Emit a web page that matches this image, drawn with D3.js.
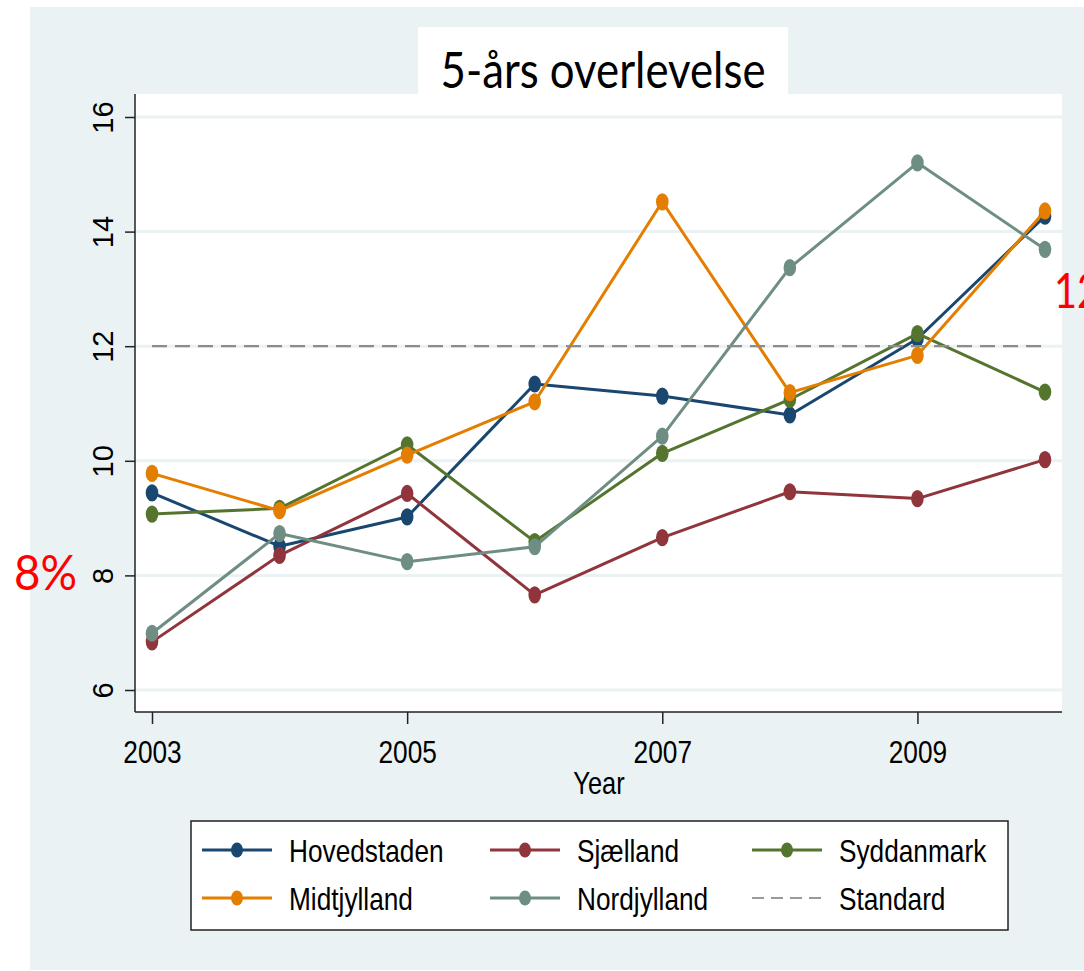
<!DOCTYPE html>
<html>
<head>
<meta charset="utf-8">
<script src="https://cdn.jsdelivr.net/npm/d3@7"></script>
<style>
  body { margin: 0; background: #fff; }
  svg { display: block; }
</style>
</head>
<body>
<svg id="chart" width="1084" height="971"></svg>
<script>
// values
var years = [2003, 2004, 2005, 2006, 2007, 2008, 2009, 2010];
var hovedstaden = [9.44, 8.51, 9.02, 11.34, 11.13, 10.80, 12.13, 14.27];
var sjaelland   = [6.84, 8.35, 9.43, 7.66, 8.66, 9.46, 9.34, 10.02];
var syddanmark  = [9.07, 9.17, 10.28, 8.59, 10.13, 11.07, 12.22, 11.20];
var midtjylland = [9.78, 9.13, 10.10, 11.03, 14.52, 11.19, 11.84, 14.36];
var nordjylland = [6.99, 8.73, 8.24, 8.50, 10.43, 13.37, 15.20, 13.69];
var standard    = [12, 12, 12, 12, 12, 12, 12, 12];

var seriesNames = ["Hovedstaden", "Sjælland", "Syddanmark", "Midtjylland", "Nordjylland"];
var seriesValues = [hovedstaden, sjaelland, syddanmark, midtjylland, nordjylland];
var seriesColors = ["#1a476f", "#90353b", "#55752f", "#e37e00", "#6e8e84"];

var yTicks = [6, 8, 10, 12, 14, 16];
var xTicks = [2003, 2005, 2007, 2009];

var titleText = "5-års overlevelse";
var xTitle = "Year";
var leftNote = "8%";
var rightNote = "12";

var svg = d3.select("#chart");
var bg = "#eaf2f3";
var squeeze = "scale(0.82,1)";
var font = "'Liberation Sans', Arial, sans-serif";

// plot region
var plot = { left: 135, right: 1062, top: 94, bottom: 712 };

var x = d3.scaleLinear().domain([2003, 2010]).range([152, 1045]);
var y = d3.scaleLinear().domain([6, 16]).range([690, 117]);

// graph region background
svg.append("rect")
  .attr("x", 30).attr("y", 7)
  .attr("width", 1054).attr("height", 963)
  .attr("fill", bg);

// plot area + title box
svg.append("rect")
  .attr("x", plot.left).attr("y", plot.top)
  .attr("width", plot.right - plot.left).attr("height", plot.bottom - plot.top)
  .attr("fill", "#fff");

svg.append("rect")
  .attr("x", 418).attr("y", 27)
  .attr("width", 370).attr("height", 70)
  .attr("fill", "#fff");

svg.append("text")
  .attr("x", 603).attr("y", 88)
  .attr("text-anchor", "middle")
  .attr("font-family", "Lato, 'Open Sans', sans-serif")
  .attr("font-size", 50)
  .attr("textLength", 325)
  .attr("lengthAdjust", "spacingAndGlyphs")
  .attr("fill", "#000")
  .text(titleText);

// gridlines
svg.append("g")
  .selectAll("line")
  .data(yTicks)
  .join("line")
  .attr("x1", plot.left).attr("x2", plot.right)
  .attr("y1", d => y(d)).attr("y2", d => y(d))
  .attr("stroke", bg)
  .attr("stroke-width", 3);

// axes
function yAxis(g) {
  g.attr("transform", `translate(${plot.left},0)`)
    .call(d3.axisLeft(y).tickValues(yTicks).tickSize(10).tickSizeOuter(0))
    .call(g => g.select(".domain").remove());
  g.selectAll(".tick line").attr("stroke", "#222").attr("stroke-width", 1.5);
  g.selectAll(".tick text")
    .attr("x", null).attr("dy", null)
    .attr("transform", "translate(-22,0) rotate(-90)")
    .attr("text-anchor", "middle")
    .attr("font-family", font)
    .attr("font-size", 29)
    .attr("fill", "#000");
}

function xAxis(g) {
  g.attr("transform", `translate(0,${plot.bottom})`)
    .call(d3.axisBottom(x).tickValues(xTicks).tickFormat(d3.format("d")).tickSize(12).tickSizeOuter(0))
    .call(g => g.select(".domain").remove());
  g.selectAll(".tick line").attr("stroke", "#222").attr("stroke-width", 1.5);
  g.selectAll(".tick text")
    .attr("y", 51).attr("dy", null)
    .attr("transform", squeeze)
    .attr("font-family", font)
    .attr("font-size", 32)
    .attr("fill", "#000");
}

svg.append("g").attr("class", "yAxis").call(yAxis);
svg.append("g").attr("class", "xAxis").call(xAxis);

svg.append("line")
  .attr("x1", plot.left).attr("x2", plot.left)
  .attr("y1", plot.top).attr("y2", plot.bottom)
  .attr("stroke", "#222").attr("stroke-width", 1.5);
svg.append("line")
  .attr("x1", plot.left).attr("x2", plot.right)
  .attr("y1", plot.bottom).attr("y2", plot.bottom)
  .attr("stroke", "#222").attr("stroke-width", 1.5);

svg.append("text")
  .attr("transform", `translate(599,794) ${squeeze}`)
  .attr("text-anchor", "middle")
  .attr("font-family", font)
  .attr("font-size", 31)
  .text(xTitle);

// series
var line = d3.line()
  .x((d, i) => x(years[i]))
  .y(d => y(d));

var series = svg.append("g").attr("class", "series");

seriesValues.forEach(function (vals, k) {
  var g = series.append("g");
  g.append("path")
    .datum(vals)
    .attr("d", line)
    .attr("fill", "none")
    .attr("stroke", seriesColors[k])
    .attr("stroke-width", 3)
    .attr("stroke-linejoin", "round");
  g.selectAll("ellipse")
    .data(vals)
    .join("ellipse")
    .attr("cx", (d, i) => x(years[i]))
    .attr("cy", d => y(d))
    .attr("rx", 6.3)
    .attr("ry", 8.6)
    .attr("fill", seriesColors[k]);
});

series.append("path")
  .datum(standard)
  .attr("d", line)
  .attr("fill", "none")
  .attr("stroke", "#8c8c8c")
  .attr("stroke-width", 2.2)
  .attr("stroke-dasharray", "15,8");

// red annotations (the right one runs off the edge, as in the original)
svg.append("text")
  .attr("x", 14).attr("y", 590)
  .attr("font-family", "Lato, 'Open Sans', sans-serif")
  .attr("font-size", 48)
  .attr("textLength", 63)
  .attr("lengthAdjust", "spacingAndGlyphs")
  .attr("fill", "#ff0000")
  .text(leftNote);

svg.append("text")
  .attr("x", 1054).attr("y", 308)
  .attr("font-family", "Lato, 'Open Sans', sans-serif")
  .attr("font-size", 48)
  .attr("textLength", 46)
  .attr("lengthAdjust", "spacingAndGlyphs")
  .attr("fill", "#ff0000")
  .text(rightNote);

// legend
var legend = svg.append("g").attr("class", "legend");
legend.append("rect")
  .attr("x", 191).attr("y", 821)
  .attr("width", 817).attr("height", 109)
  .attr("fill", "#fff")
  .attr("stroke", "#222")
  .attr("stroke-width", 1.5);

var legendNames = seriesNames.concat(["Standard"]);
var legendColors = seriesColors.concat(["#9a9a9a"]);
var colX = [202, 490, 752];
var rowY = [850, 898];

legendNames.forEach(function (name, k) {
  var lx = colX[k % 3], ly = rowY[Math.floor(k / 3)];
  var item = legend.append("g").attr("transform", `translate(${lx},${ly})`);
  var isStd = name === "Standard";
  item.append("line")
    .attr("x1", 0).attr("x2", 70)
    .attr("stroke", legendColors[k])
    .attr("stroke-width", isStd ? 2 : 3)
    .attr("stroke-dasharray", isStd ? "12,7" : null);
  if (!isStd) {
    item.append("ellipse")
      .attr("cx", 35).attr("rx", 6).attr("ry", 7.5)
      .attr("fill", legendColors[k]);
  }
  item.append("text")
    .attr("transform", `translate(87,12) ${squeeze}`)
    .attr("font-family", font)
    .attr("font-size", 32)
    .attr("fill", "#000")
    .text(name);
});
</script>
</body>
</html>
